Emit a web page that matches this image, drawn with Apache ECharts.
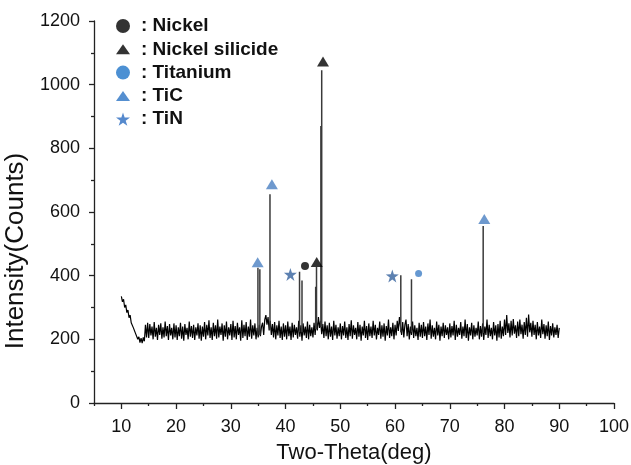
<!DOCTYPE html>
<html><head><meta charset="utf-8">
<script src="https://cdn.jsdelivr.net/npm/echarts@6/dist/echarts.min.js"></script>
<style>html,body{margin:0;padding:0;background:#fff}#c{width:631px;height:465px}</style>
</head><body><div id="c"></div>
<script>
// baseline sampled every 0.2 deg from 10 to 90
const baseStart = 10, baseStep = 0.2;
const baseline = [
335,318,326,300,308,284,292,268,276,252,258,236,240,218,222,200,208,190,204,188,206,194,246,206,252,
204,248,212,240,200,254,208,236,198,246,214,250,202,238,206,256,210,242,198,248,212,236,200,250,206,
244,198,238,210,252,202,240,196,248,214,236,200,256,208,242,204,246,198,238,212,250,202,244,196,240,
208,254,200,246,212,260,204,238,198,252,210,244,202,262,206,240,214,250,196,244,208,256,200,238,212,
248,198,258,206,242,200,252,214,238,196,260,204,246,210,254,198,240,208,262,202,244,212,250,200,236,
206,246,210,240,252,214,262,276,246,270,228,258,214,248,206,254,200,244,212,258,204,240,198,250,208,
244,200,256,210,240,198,252,206,246,214,238,202,258,208,244,196,250,212,240,204,256,200,246,210,238,
206,252,214,262,228,270,236,258,216,248,204,256,210,244,200,252,208,240,198,258,212,246,202,238,210,
250,200,242,212,256,204,238,198,248,210,260,202,244,214,236,200,254,208,246,196,240,212,258,204,242,
198,250,210,240,204,258,212,246,200,236,214,256,202,244,208,250,196,242,212,262,204,238,210,252,200,
246,212,258,226,270,240,214,254,206,246,262,210,248,200,240,214,256,204,244,210,236,198,252,208,246,
204,254,210,240,198,250,214,262,202,244,208,236,200,256,212,246,196,240,210,252,204,244,214,238,200,
250,206,242,212,258,198,246,208,236,214,254,202,240,210,262,204,248,196,238,212,252,200,244,208,236,
212,256,200,242,208,250,198,240,214,262,204,246,210,236,200,254,212,244,196,248,206,258,202,240,210,
262,214,276,220,250,206,258,212,264,218,244,204,256,210,262,216,246,202,254,214,268,208,278,222,252,
208,258,214,246,200,254,212,240,204,262,216,248,202,244,210,256,198,242,212,250,206,238,214,246,204,
236
];
const peakX    = [34.95, 35.3, 37.15, 42.55, 43.0, 45.5, 45.65, 46.45, 46.6, 61.05, 63.0, 76.1];
const peakTop  = [425,   420,  656,   412,   385,  365,  427,   870,   1045, 401,   389,  556];
const peakFoot = [214,   214,  230,   222,   222,  232,  232,   240,   240,  222,   222,  220];

const nickel = [[43.55, 430]];
const nickelSilicide = [[45.69, 443], [46.84, 1073]];
const titanium = [[64.3, 407]];
const tic = [[34.9, 442], [37.5, 687], [76.3, 578]];
const tin = [[40.88, 404], [59.5, 399]];

const xMajorTicks = [10,20,30,40,50,60,70,80,90,100];
const xMinorTicks = [5,15,25,35,45,55,65,75,85,95];

const baseData = baseline.map((v, i) => [+(baseStart + i * baseStep).toFixed(2), v]);
const peakData = [];
peakX.forEach((x, i) => { peakData.push([x, peakFoot[i]], [x, peakTop[i]], '-'); });

const font = 'Liberation Sans, Arial, sans-serif';
const chart = echarts.init(document.getElementById('c'), null, {renderer: 'canvas'});
chart.setOption({
  animation: false,
  backgroundColor: '#fff',
  grid: {left: 94, right: 17, top: 21, bottom: 62, containLabel: false, outerBoundsMode: 'none'},
  legend: {
    orient: 'vertical', left: 111, top: 11.5,
    itemWidth: 14, itemHeight: 14, itemGap: 4.3,
    textStyle: {fontFamily: font, fontWeight: 'bold', fontSize: 19, color: '#111', lineHeight: 14, padding: [0,0,0,6]},
    data: [
      {name: ': Nickel', itemStyle: {color: '#000'}},
      {name: ': Nickel silicide', icon: 'path://M0,10 L7,0 L14,10 Z', itemStyle: {color: '#000'}},
      {name: ': Titanium', itemStyle: {color: '#1f74c8'}},
      {name: ': TiC', icon: 'path://M0,10 L7,0 L14,10 Z', itemStyle: {color: '#2a73c4'}},
      {name: ': TiN', itemStyle: {color: '#2a6cc0'}}
    ]
  },
  xAxis: [{
    type: 'value', min: 5, max: 100,
    name: 'Two-Theta(deg)', nameLocation: 'middle', nameGap: 39,
    nameTextStyle: {fontFamily: font, fontSize: 22, color: '#111'},
    axisLine: {lineStyle: {color: '#222', width: 1.3}},
    axisTick: {show: true, length: 6, lineStyle: {color: '#222', width: 1.3}, customValues: xMajorTicks},
    axisLabel: {fontFamily: font, fontSize: 18, color: '#111', margin: 15, customValues: xMajorTicks},
    splitLine: {show: false}
  }, {
    type: 'value', min: 5, max: 100, gridIndex: 0, position: 'bottom',
    axisLine: {show: false},
    axisTick: {show: true, length: 3, lineStyle: {color: '#222', width: 1.3}, customValues: xMinorTicks},
    axisLabel: {show: false},
    splitLine: {show: false}
  }],
  yAxis: {
    type: 'value', min: 0, max: 1200, interval: 200,
    name: 'Intensity(Counts)', nameLocation: 'middle', nameGap: 55,
    nameTextStyle: {fontFamily: font, fontSize: 26, color: '#111', padding: [0, 78, 0, 0]},
    axisLine: {show: true, lineStyle: {color: '#222', width: 1.3}},
    axisTick: {show: true, length: 5, lineStyle: {color: '#222', width: 1.3}},
    minorTick: {show: true, splitNumber: 2, length: 3, lineStyle: {color: '#222', width: 1.3}},
    axisLabel: {fontFamily: font, fontSize: 18, color: '#111', margin: 14, formatter: v => String(v)},
    splitLine: {show: false}
  },
  series: [
    {type: 'line', data: baseData, showSymbol: false, symbol: 'none', lineStyle: {color: '#000', width: 1.2}, z: 2, silent: true},
    {type: 'line', data: peakData, showSymbol: false, symbol: 'none', connectNulls: false, lineStyle: {color: '#3a3a3a', width: 1.5}, z: 2, silent: true},
    {name: ': Nickel', type: 'scatter', data: nickel, symbol: 'circle', symbolSize: 8, itemStyle: {color: '#000'}, z: 5},
    {name: ': Nickel silicide', type: 'scatter', data: nickelSilicide, symbol: 'triangle', symbolSize: [12, 10], itemStyle: {color: '#000'}, z: 5},
    {name: ': Titanium', type: 'scatter', data: titanium, symbol: 'circle', symbolSize: 7, itemStyle: {color: '#3f7ec6'}, z: 5},
    {name: ': TiC', type: 'scatter', data: tic, symbol: 'triangle', symbolSize: [12, 10], itemStyle: {color: '#4a80c2'}, z: 5},
    {name: ': TiN', type: 'scatter', data: tin, symbol: 'path://M50,0 L61.8,35.6 L100,36.2 L69.1,58.8 L80.9,95.1 L50,73 L19.1,95.1 L30.9,58.8 L0,36.2 L38.2,35.6 Z', symbolSize: 13, itemStyle: {color: '#34629e'}, z: 5}
  ]
});
</script>
</body></html>
